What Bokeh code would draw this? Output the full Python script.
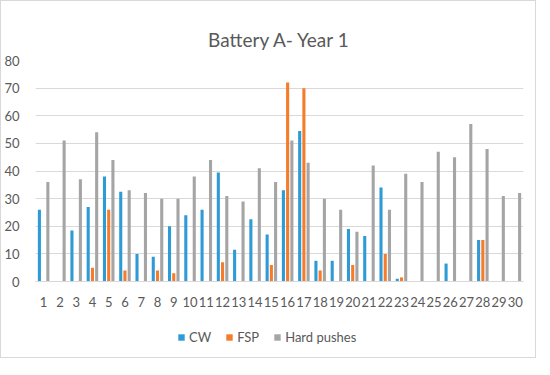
from bokeh.plotting import figure
from bokeh.models import ColumnDataSource, Range1d, FixedTicker, Legend, LegendItem
from bokeh.transform import dodge
from bokeh.embed import file_html
from bokeh.resources import INLINE

days = list(range(1, 31))
cw = [26, 0, 18.5, 27, 38, 32.5, 10, 9, 20, 24, 26, 39.5, 11.5, 22.5, 17,
      33, 54.5, 7.5, 7.5, 19, 16.5, 34, 1, 0, 0, 6.5, 0, 15, 0, 0]
fsp = [0, 0, 0, 5, 26, 4, 0, 4, 3, 0, 0, 7, 0, 0, 6,
       72, 70, 4, 0, 6, 0, 10, 1.5, 0, 0, 0, 0, 15, 0, 0]
hard = [36, 51, 37, 54, 44, 33, 32, 30, 30, 38, 44, 31, 29, 41, 36,
        51, 43, 30, 26, 18, 42, 26, 39, 36, 47, 45, 57, 48, 31, 32]
series = ["CW", "FSP", "Hard pushes"]
colors = ["#2E9BD6", "#F57C2A", "#A5A5A5"]
y_ticks = list(range(0, 81, 10))

src = ColumnDataSource(dict(x=days, cw=cw, fsp=fsp, hard=hard))

p = figure(frame_width=488, frame_height=297, output_backend="svg", toolbar_location=None,
           x_range=Range1d(0.5, 30.5), y_range=Range1d(-27.5, 80),
           min_border_left=34, min_border_right=12, min_border_top=59,
           min_border_bottom=0)
p.styles = {"border": "1px solid #d9d9d9"}

renderers = []
for col, off, c in zip(["cw", "fsp", "hard"], [-0.26, 0.0, 0.26], colors):
    r = p.vbar(x=dodge("x", off), top=col, width=0.19, source=src,
               color=c, line_color=None)
    renderers.append(r)

p.title.text = "Battery A- Year 1"
p.title.align = "center"
p.title.text_font = "Lato"
p.title.text_font_size = "19px"
p.title.text_font_style = "normal"
p.title.text_color = "#595959"
p.title.standoff = 20

p.outline_line_color = None
p.xgrid.grid_line_color = None
p.ygrid.grid_line_color = "#d9d9d9"
p.ygrid.ticker = FixedTicker(ticks=y_ticks)

p.yaxis.ticker = FixedTicker(ticks=y_ticks)
p.yaxis.axis_line_color = None
p.yaxis.major_tick_line_color = None
p.yaxis.minor_tick_line_color = None
p.yaxis.major_label_text_font = "Lato"
p.yaxis.major_label_text_font_size = "13px"
p.yaxis.major_label_text_color = "#595959"
p.yaxis.major_label_standoff = 10

p.xaxis.fixed_location = 0
p.xaxis.ticker = FixedTicker(ticks=days)
p.xaxis.axis_line_color = "#d9d9d9"
p.xaxis.major_tick_line_color = None
p.xaxis.minor_tick_line_color = None
p.xaxis.major_label_text_font = "Lato"
p.xaxis.major_label_text_font_size = "13px"
p.xaxis.major_label_text_color = "#595959"
p.xaxis.major_label_standoff = 9

legend = Legend(items=[LegendItem(label=s, renderers=[r]) for s, r in zip(series, renderers)],
                orientation="horizontal", location=(142, 12),
                label_text_font="Lato", label_text_font_size="13px",
                label_text_color="#595959", glyph_width=8, glyph_height=8,
                spacing=14, label_standoff=4, border_line_color=None,
                background_fill_alpha=0, margin=0, padding=4)
p.add_layout(legend)

open("out.html", "w").write(file_html(p, INLINE))
